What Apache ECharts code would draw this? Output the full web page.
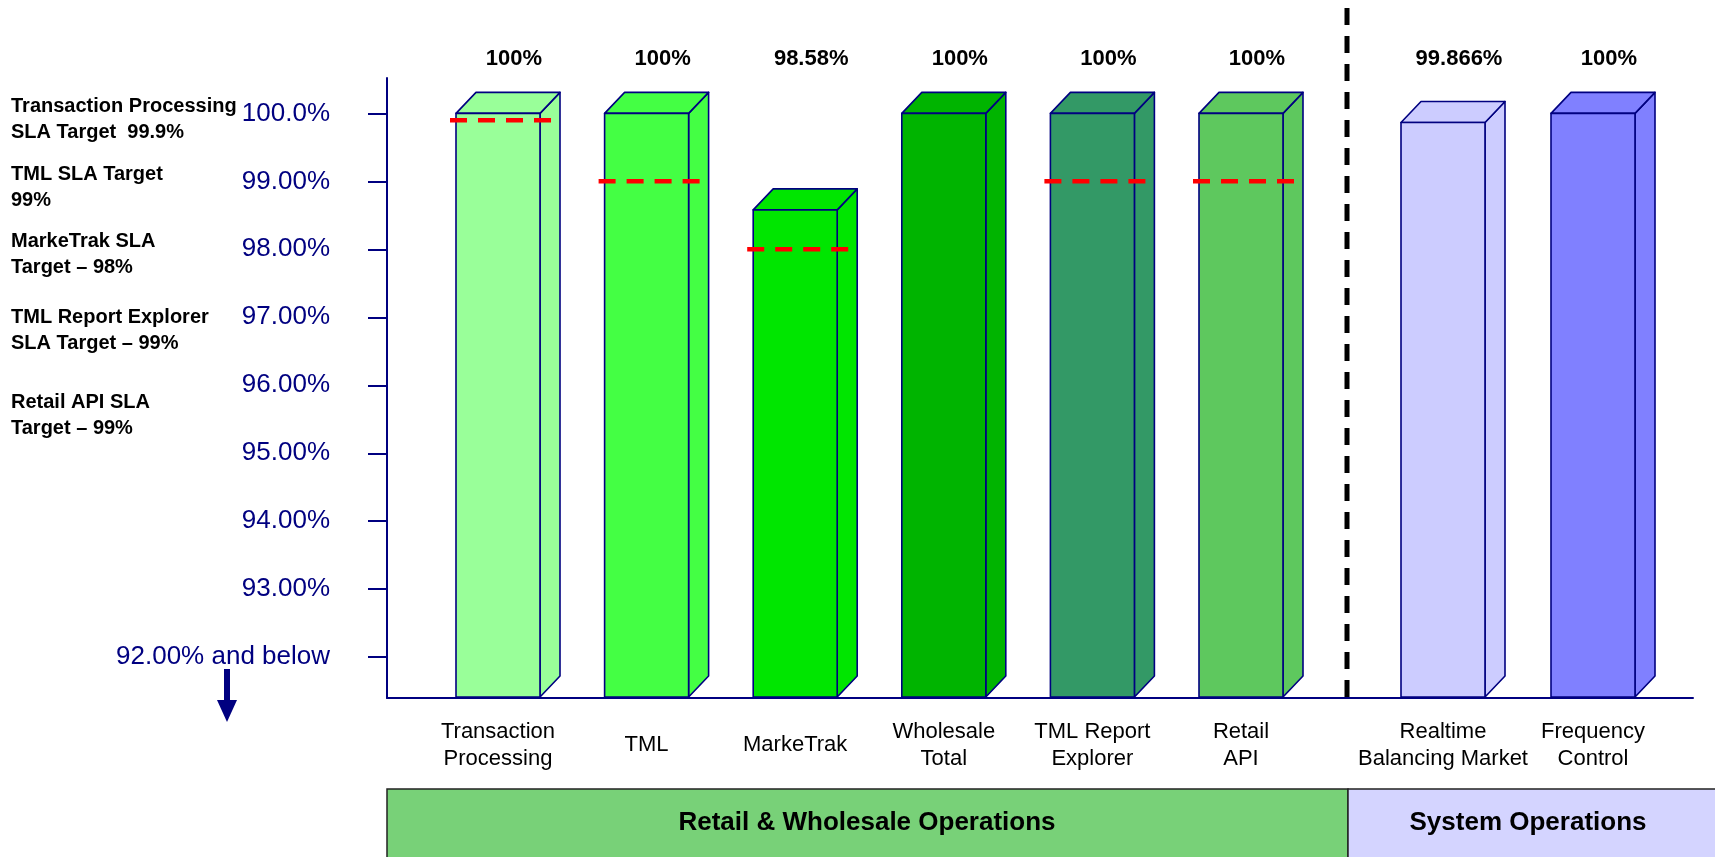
<!DOCTYPE html>
<html>
<head>
<meta charset="utf-8">
<script src="https://cdn.jsdelivr.net/npm/echarts@6/dist/echarts.min.js"></script>
<style>
  html, body { margin: 0; padding: 0; background: #ffffff; }
  #chart { width: 1715px; height: 857px; }
</style>
</head>
<body>
<div id="chart"></div>
<script>
// ---------------- data ----------------
const retailCategories = ['Transaction\nProcessing', 'TML', 'MarkeTrak', 'Wholesale\nTotal', 'TML Report\nExplorer', 'Retail\nAPI'];
const retailValues = [100, 100, 98.58, 100, 100, 100];
const retailValueLabels = ['100%', '100%', '98.58%', '100%', '100%', '100%'];
const retailTargets = [99.9, 99, 98, null, 99, 99];

const systemCategories = ['Realtime\nBalancing Market', 'Frequency\nControl'];
const systemValues = [99.866, 100];
const systemValueLabels = ['99.866%', '100%'];

const yTickValues = [92, 93, 94, 95, 96, 97, 98, 99, 100];
const yTickLabels = ['92.00% and below', '93.00%', '94.00%', '95.00%', '96.00%', '97.00%', '98.00%', '99.00%', '100.0%'];

const slaNotes = [
  'Transaction Processing\nSLA Target  99.9%',
  'TML SLA Target\n99%',
  'MarkeTrak SLA\nTarget \u2013 98%',
  'TML Report Explorer\nSLA Target \u2013 99%',
  'Retail API SLA\nTarget \u2013 99%'
];
const groupNames = ['Retail & Wholesale Operations', 'System Operations'];

// ---------------- styles ----------------
const Y_MIN = 91.4, Y_MAX = 100.52;
const FONT = "'Liberation Sans', Arial, Helvetica, sans-serif";
const NAVY = '#000080';
const retailColors = ['#99FF99', '#44FF44', '#00E600', '#00B400', '#339966', '#5EC85E'];
const systemColors = ['#CCCCFF', '#8080FF'];
const BAR_W = 84, DEPTH_X = 20, DEPTH_Y = 21;

function bar3d(colors, labels) {
  return function (params, api) {
    const i = params.dataIndex;
    const cat = api.value(0);
    const v = api.value(1);
    const top = api.coord([cat, v]);
    const base = api.coord([cat, Y_MIN]);
    const gridTop = api.coord([cat, Y_MAX])[1];
    const cx = top[0];
    const L = cx - BAR_W / 2, R = cx + BAR_W / 2, T = top[1], B = base[1] - 1;
    const fill = colors[i];
    const stroke = { stroke: NAVY, lineWidth: 1.6, lineJoin: 'round' };
    return {
      type: 'group',
      children: [
        { type: 'polygon', shape: { points: [[R, T], [R + DEPTH_X, T - DEPTH_Y], [R + DEPTH_X, B - DEPTH_Y], [R, B]] },
          style: Object.assign({ fill: fill }, stroke) },
        { type: 'polygon', shape: { points: [[L, T], [L + DEPTH_X, T - DEPTH_Y], [R + DEPTH_X, T - DEPTH_Y], [R, T]] },
          style: Object.assign({ fill: fill }, stroke) },
        { type: 'rect', shape: { x: L, y: T, width: BAR_W, height: B - T },
          style: Object.assign({ fill: fill }, stroke) },
        { type: 'text', style: { text: labels[i], x: cx + 16, y: gridTop - 19,
          align: 'center', verticalAlign: 'middle', textAlign: 'center', textVerticalAlign: 'middle',
          font: 'bold 22px ' + FONT, fill: '#000' } }
      ]
    };
  };
}

function targetLine(params, api) {
  const cat = api.value(0);
  const t = api.value(1);
  if (t == null || isNaN(t)) return null;
  const p = api.coord([cat, t]);
  const L = p[0] - BAR_W / 2;
  return {
    type: 'line',
    shape: { x1: L - 6, y1: p[1], x2: L + 100, y2: p[1] },
    style: { stroke: '#FF0000', lineWidth: 4.5, lineDash: [17, 11] }
  };
}

const hiddenY = (idx) => ({
  type: 'value', gridIndex: idx, min: Y_MIN, max: Y_MAX,
  axisLine: { show: false }, axisTick: { show: false }, axisLabel: { show: false }, splitLine: { show: false }
});
const catX = (idx, cats) => ({
  type: 'category', gridIndex: idx, data: cats, boundaryGap: true,
  axisLine: { show: false }, axisTick: { show: false }, splitLine: { show: false },
  axisLabel: { show: true, interval: 0, fontFamily: FONT, fontSize: 22, lineHeight: 27, color: '#000',
    margin: 47, verticalAlign: 'middle', align: 'center' }
});

const graphics = [];
const noteCenters = [119.5, 187, 254.5, 330.5, 415.5];
slaNotes.forEach((t, k) => {
  graphics.push({ type: 'text', left: 11, top: noteCenters[k] - 26, style: {
    text: t, font: 'bold 20px ' + FONT, fill: '#000', lineHeight: 26 } });
});
// arrow under "92.00% and below"
graphics.push({ type: 'rect', shape: { x: 224, y: 669, width: 6, height: 33 }, style: { fill: NAVY } });
graphics.push({ type: 'polygon', shape: { points: [[217, 700], [237, 700], [227, 722]] }, style: { fill: NAVY } });
// divider
graphics.push({ type: 'line', shape: { x1: 1347, y1: 8, x2: 1347, y2: 697 },
  style: { stroke: '#000', lineWidth: 5, lineDash: [17, 11] }, z: 10 });
// group boxes
graphics.push({ type: 'rect', shape: { x: 387, y: 789, width: 961, height: 80 },
  style: { fill: '#78D178', stroke: '#222', lineWidth: 1.5 } });
graphics.push({ type: 'rect', shape: { x: 1348, y: 789, width: 372, height: 80 },
  style: { fill: '#D4D4FF', stroke: '#222', lineWidth: 1.5 } });
graphics.push({ type: 'text', x: 867, y: 823, style: { text: groupNames[0], font: 'bold 26px ' + FONT, fill: '#000',
  align: 'center', verticalAlign: 'middle', textAlign: 'center', textVerticalAlign: 'middle' } });
graphics.push({ type: 'text', x: 1528, y: 823, style: { text: groupNames[1], font: 'bold 26px ' + FONT, fill: '#000',
  align: 'center', verticalAlign: 'middle', textAlign: 'center', textVerticalAlign: 'middle' } });

const chart = echarts.init(document.getElementById('chart'), null, { renderer: 'canvas' });
chart.setOption({
  animation: false,
  backgroundColor: '#ffffff',
  textStyle: { fontFamily: FONT },
  grid: [
    { left: 387, right: 22, top: 78, bottom: 159 },
    { left: 423.7, width: 891.6, top: 78, bottom: 159 },
    { left: 1368, width: 300, top: 78, bottom: 159 }
  ],
  xAxis: [
    { type: 'value', gridIndex: 0, min: 0, max: 1,
      axisLine: { show: true, lineStyle: { color: NAVY, width: 2 } },
      axisTick: { show: false }, axisLabel: { show: false }, splitLine: { show: false } },
    catX(1, retailCategories),
    catX(2, systemCategories)
  ],
  yAxis: [
    { type: 'value', gridIndex: 0, min: Y_MIN, max: Y_MAX,
      axisLine: { show: true, lineStyle: { color: NAVY, width: 2 } },
      axisTick: { show: true, length: 19, customValues: yTickValues, lineStyle: { color: NAVY, width: 2 } },
      axisLabel: { show: true, customValues: yTickValues, margin: 57, fontFamily: FONT, fontSize: 26, color: NAVY,
        formatter: (v) => { const k = yTickValues.indexOf(Math.round(v)); return k >= 0 ? yTickLabels[k] : ''; } },
      splitLine: { show: false } },
    hiddenY(1),
    hiddenY(2)
  ],
  series: [
    { type: 'custom', xAxisIndex: 1, yAxisIndex: 1, renderItem: bar3d(retailColors, retailValueLabels),
      data: retailValues.map((v, i) => [i, v]), z: 2, clip: false },
    { type: 'custom', xAxisIndex: 2, yAxisIndex: 2, renderItem: bar3d(systemColors, systemValueLabels),
      data: systemValues.map((v, i) => [i, v]), z: 2, clip: false },
    { type: 'custom', xAxisIndex: 1, yAxisIndex: 1, renderItem: targetLine,
      data: retailTargets.map((t, i) => [i, t == null ? NaN : t]), z: 5, clip: false }
  ],
  graphic: graphics
});
</script>
</body>
</html>
